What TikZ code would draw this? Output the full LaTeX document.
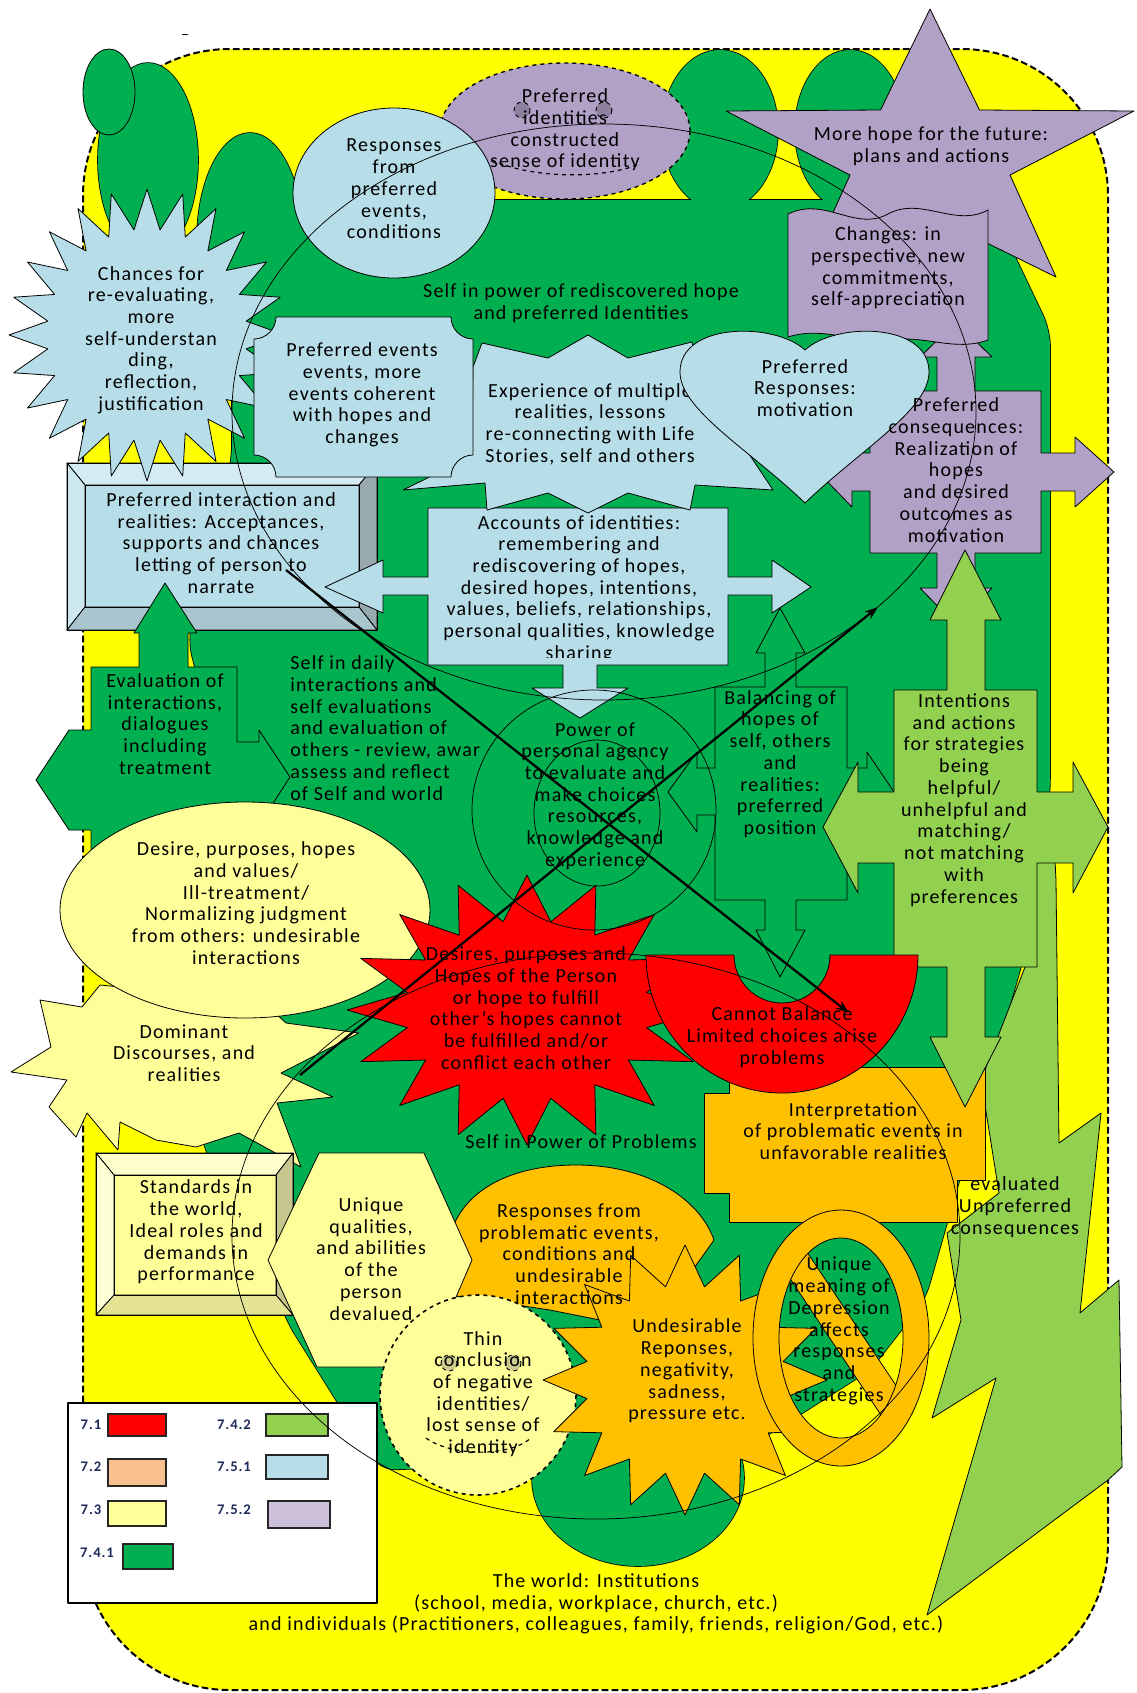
\documentclass[tikz,border=0pt]{standalone}
\usepackage{fontspec}
\setmainfont{Carlito}[LetterSpace=6]
\usetikzlibrary{arrows.meta}
\definecolor{ybg}{HTML}{FFFF00}
\definecolor{grn}{HTML}{00B050}
\definecolor{lgrn}{HTML}{92D050}
\definecolor{lblue}{HTML}{B7DEE8}
\definecolor{purp}{HTML}{B2A1C7}
\definecolor{pyel}{HTML}{FFFF99}
\definecolor{peach}{HTML}{FAC090}
\definecolor{rd}{HTML}{FF0000}
\definecolor{orng}{HTML}{FFC000}
\definecolor{lav}{HTML}{CCC0DA}
\definecolor{navy}{HTML}{1F2A5C}
\begin{document}
\begin{tikzpicture}[x=0.75pt,y=-0.75pt,
  shp/.style={draw=black,line width=0.6pt,line join=round},
  txt/.style={align=center,inner sep=0pt,font=\fontsize{15}{16.3}\selectfont,text=black},
  thinln/.style={draw=black,line width=0.55pt},
  leglbl/.style={inner sep=0pt,font=\fontsize{11}{12}\selectfont\bfseries,text=navy},
  swatch/.style={draw=black!85,line width=1pt}]
\useasboundingbox (0,0) rectangle (1136,1693);
\fill[white] (0,0) rectangle (1136,1693);
% world
\draw[fill=ybg,line width=1.5pt,dash pattern=on 5pt off 2.5pt,rounded corners=110pt] (83,49) rectangle (1108,1690);
% green union
\def\gbody{(232,200) -- (988,200) -- (1050,330) -- (1050,790) -- (1040,900) -- (1000,1040) -- (945,1230) -- (925,1300) -- (870,1370) -- (760,1440) -- (622,1440) -- (500,1465) -- (380,1470) -- (286,1320) -- (262,1250) -- (200,1140) -- (230,1020) -- (237,830) -- (188,640) -- (232,460) -- cycle}
\draw[line width=1.2pt,rounded corners=12pt] \gbody;
\draw[line width=1.2pt] (148,160) ellipse [x radius=50,y radius=97];
\draw[line width=1.2pt] (250,240) ellipse [x radius=53,y radius=107];
\draw[line width=1.2pt] (720,130) ellipse [x radius=58,y radius=80];
\draw[line width=1.2pt] (850,130) ellipse [x radius=55,y radius=80];
\draw[line width=1.2pt] (638,1478) ellipse [x radius=106,y radius=88];
\fill[grn,rounded corners=12pt] \gbody;
\fill[grn] (148,160) ellipse [x radius=50,y radius=97];
\fill[grn] (250,240) ellipse [x radius=53,y radius=107];
\fill[grn] (720,130) ellipse [x radius=58,y radius=80];
\fill[grn] (850,130) ellipse [x radius=55,y radius=80];
\fill[grn] (638,1478) ellipse [x radius=106,y radius=88];
\draw[shp,fill=grn] (109,92) ellipse [x radius=26,y radius=43];
% lightning bolt
\draw[shp,fill=lgrn] (1030,800) -- (1052,800) -- (1056,880) -- (1059,1143) -- (1101,1113) -- (1080,1313) -- (1119,1280) -- (1122,1467) -- (1108,1480) -- (927,1615) -- (996,1378) -- (932,1418) -- (961,1320) -- (947,1233) -- (999,1193) -- (981,1080) -- (1025,967) -- cycle;
% star more hope
\draw[shp,fill=purp] (930,9) -- (979.5,110) -- (1134,111) -- (1010,175) -- (1056,277) -- (930,215) -- (804,277) -- (850,175) -- (726,111) -- (880.5,110) -- cycle;
% purple 4-way
\draw[shp,fill=purp] (870,391) -- (937,391) -- (937,357) -- (920,357) -- (956,322) -- (992,357) -- (975,357) -- (975,391) -- (1041,391) -- (1041,453) -- (1075,453) -- (1075,437) -- (1114,472) -- (1075,507) -- (1075,491) -- (1041,491) -- (1041,553) -- (975,553) -- (975,588) -- (992,588) -- (956,625) -- (920,588) -- (937,588) -- (937,553) -- (870,553) -- (870,491) -- (852,491) -- (852,507) -- (818,472) -- (852,437) -- (852,453) -- (870,453) -- cycle;
% changes wave
\draw[shp,fill=purp] (788,214) .. controls (825,196) and (855,232) .. (888,214) .. controls (921,196) and (955,228) .. (988,210) -- (988,340) .. controls (955,352) and (925,335) .. (894,340) .. controls (860,346) and (825,325) .. (788,337) -- cycle;
% preferred identities ellipse (smiley)
\draw[fill=purp,line width=1pt,dashed] (565,131) ellipse [x radius=125,y radius=68];
\draw[fill=purp!80!black,line width=0.7pt,dashed] (522,110) circle [radius=8];
\draw[fill=purp!80!black,line width=0.7pt,dashed] (604,110) circle [radius=8];
\draw[line width=0.9pt,dashed] (492,160) .. controls (530,178) and (600,180) .. (640,164);
% responses from preferred events
\draw[shp,fill=lblue] (394,193) ellipse [x radius=101,y radius=85];
% bevel box preferred interaction
\fill[lblue] (67,463) rectangle (377,630);
\draw[shp,fill=lblue!60!white] (67,463) -- (377,463) -- (359,485) -- (85,485) -- cycle;
\draw[shp,fill=lblue!70!white] (67,463) -- (85,485) -- (85,607) -- (67,630) -- cycle;
\draw[shp,fill=lblue!45!gray] (377,463) -- (377,630) -- (359,607) -- (359,485) -- cycle;
\draw[shp,fill=lblue!75!gray] (67,630) -- (377,630) -- (359,607) -- (85,607) -- cycle;
\draw[shp] (85,485) rectangle (359,607);
\draw[shp] (67,463) rectangle (377,630);
% accounts 4-way
\draw[shp,fill=lblue] (428,508) -- (728,508) -- (728,577) -- (772,577) -- (772,560) -- (811,587) -- (772,613) -- (772,595) -- (728,595) -- (728,665) -- (597,665) -- (597,688) -- (628,688) -- (580,718) -- (532,688) -- (563,688) -- (563,665) -- (428,665) -- (428,595) -- (383,595) -- (383,613) -- (325,587) -- (383,560) -- (383,577) -- (428,577) -- cycle;
\begin{scope}
\clip (428,508) rectangle (728,657);
\node[txt] (tacc) at (579,589) {Accounts of identities:\\remembering and\\rediscovering of hopes,\\desired hopes, intentions,\\values, beliefs, relationships,\\personal qualities, knowledge\\sharing};
\end{scope}
% experience
\draw[shp,fill=lblue] (482,343) -- (548,358) -- (588,335) -- (628,358) -- (692,342) -- (700,380) -- (753,460) -- (773,490) -- (695,485) -- (690,510) -- (628,493) -- (588,513) -- (548,493) -- (487,510) -- (485,483) -- (403,490) -- (450,467) -- (472,447) -- (473,367) -- cycle;
\node[txt] (texp) at (590,424) {Experience of multiple\\realities, lessons\\re-connecting with Life\\Stories, self and others};
% heart
\draw[shp,fill=lblue] (805,350) .. controls (835,322) and (929,322) .. (929,372) .. controls (929,410) and (860,450) .. (805,503) .. controls (750,450) and (680,410) .. (680,372) .. controls (680,322) and (775,322) .. (805,350) -- cycle;
% chances star
\draw[shp,fill=lblue] plot[variable=\k,samples at={0,...,47}] ({147+cos(90+7.5*\k)*(138-38*mod(\k,2))},{335-sin(90+7.5*\k)*(146-40*mod(\k,2))}) -- cycle;
% plaque
\draw[shp,fill=lblue] (276,317) -- (451,317) .. controls (451,329) and (461,339) .. (473,339) -- (473,455) .. controls (461,455) and (451,465) .. (451,477) -- (276,477) .. controls (276,465) and (266,455) .. (254,455) -- (254,339) .. controls (266,339) and (276,329) .. (276,317) -- cycle;
% evaluation arrow
\draw[shp,fill=grn] (91,667) -- (139,667) -- (139,633) -- (134,633) -- (165,583) -- (197,633) -- (188,633) -- (188,667) -- (237,667) -- (237,742) -- (259,742) -- (259,730) -- (290,777) -- (259,825) -- (259,812) -- (237,812) -- (237,870) -- (91,870) -- (91,830) -- (69,830) -- (36,780) -- (69,730) -- (91,730) -- cycle;
% balancing 4-way
\draw[shp,fill=grn] (715,687) -- (765,687) -- (765,653) -- (756,653) -- (780,608) -- (805,653) -- (796,653) -- (796,687) -- (847,687) -- (847,768) -- (867,768) -- (867,752) -- (894,792) -- (867,832) -- (867,815) -- (847,815) -- (847,900) -- (796,900) -- (796,930) -- (805,930) -- (780,977) -- (756,930) -- (765,930) -- (765,900) -- (715,900) -- (715,815) -- (697,815) -- (697,832) -- (668,792) -- (697,752) -- (697,768) -- (715,768) -- cycle;
% interpretation
\draw[shp,fill=orng] (729,1067) -- (985,1067) -- (985,1180) -- (957,1180) -- (957,1222) -- (729,1222) -- (729,1193) -- (704,1193) -- (704,1093) -- (729,1093) -- cycle;
% intentions 4-way
\draw[shp,fill=lgrn] (894,690) -- (947,690) -- (947,620) -- (930,620) -- (965,550) -- (1001,620) -- (985,620) -- (985,690) -- (1037,690) -- (1037,792) -- (1073,792) -- (1073,762) -- (1108,827) -- (1073,893) -- (1073,863) -- (1037,863) -- (1037,967) -- (985,967) -- (985,1037) -- (1001,1037) -- (965,1107) -- (930,1037) -- (947,1037) -- (947,967) -- (894,967) -- (894,863) -- (858,863) -- (858,893) -- (823,827) -- (858,762) -- (858,792) -- (894,792) -- cycle;
% dominant
\draw[shp,fill=pyel] (11,1072) -- (51,1047) -- (40,1000) -- (82,1007) -- (100,985) -- (150,990) -- (200,985) -- (250,990) -- (286,1023) -- (359,1033) -- (281,1073) -- (333,1097) -- (277,1103) -- (301,1167) -- (239,1133) -- (196,1147) -- (156,1140) -- (120,1122) -- (118,1150) -- (87,1113) -- (76,1137) -- (49,1107) -- (67,1080) -- cycle;
% desire ellipse
\draw[shp,fill=pyel] (245,910) ellipse [x radius=185,y radius=108];
% red star
\draw[shp,fill=rd] plot[variable=\k,samples at={0,...,31}] ({527+cos(90+11.25*\k)*(180-58*mod(\k,2))},{1010-sin(90+11.25*\k)*(135-45*mod(\k,2))}) -- cycle;
% cannot balance block arc
\draw[shp,fill=rd] (646,955) arc [start angle=180,end angle=0,x radius=136,y radius=138] -- (830,955) arc [start angle=0,end angle=180,x radius=48,y radius=48] -- cycle;
% standards bevel
\fill[pyel] (96,1153) rectangle (293,1315);
\draw[shp,fill=pyel!50!white] (96,1153) -- (293,1153) -- (276,1175) -- (114,1175) -- cycle;
\draw[shp,fill=pyel!40!white] (96,1153) -- (114,1175) -- (114,1295) -- (96,1315) -- cycle;
\draw[shp,fill=pyel!55!gray] (293,1153) -- (293,1315) -- (276,1295) -- (276,1175) -- cycle;
\draw[shp,fill=pyel!78!gray] (96,1315) -- (293,1315) -- (276,1295) -- (114,1295) -- cycle;
\draw[shp] (114,1175) rectangle (276,1295);
\draw[shp] (96,1153) rectangle (293,1315);
% responses from problematic (orange)
\draw[shp,fill=orng] (449,1295) .. controls (430,1200) and (500,1165) .. (576,1165) .. controls (650,1165) and (700,1200) .. (714,1240) -- (650,1330) -- (550,1310) -- cycle;
% hexagon
\draw[shp,fill=pyel] (268,1260) -- (319,1153) -- (424,1153) -- (472,1260) -- (426,1367) -- (317,1367) -- cycle;
% thin conclusion circle
\draw[fill=pyel,line width=1.2pt,dashed] (478,1395) ellipse [x radius=98,y radius=100];
\draw[fill=pyel!60!gray,line width=0.7pt,dashed] (449,1363) circle [radius=8];
\draw[fill=pyel!60!gray,line width=0.7pt,dashed] (513,1363) circle [radius=8];
\draw[line width=0.9pt,dashed] (426,1438) .. controls (450,1456) and (510,1458) .. (532,1437);
% undesirable orange star
\draw[shp,fill=orng] plot[variable=\k,samples at={0,...,31}] ({685+cos(90+11.25*\k)*(142-42*mod(\k,2))},{1380-sin(90+11.25*\k)*(135-40*mod(\k,2))}) -- cycle;
% no symbol
\fill[orng,even odd rule] (841,1338) ellipse [x radius=88,y radius=128] (841,1338) ellipse [x radius=62,y radius=100];
\begin{scope}
\clip (841,1338) ellipse [x radius=62,y radius=100];
\fill[orng] (787,1222) -- (927,1432) -- (903,1448) -- (763,1238) -- cycle;
\draw[shp] (787,1222) -- (927,1432);
\draw[shp] (763,1238) -- (903,1448);
\end{scope}
\draw[shp] (841,1338) ellipse [x radius=88,y radius=128];
\draw[shp] (841,1338) ellipse [x radius=62,y radius=100];
% legend
\draw[shp,fill=white,line width=0.8pt] (68,1403) rectangle (377,1603);
\draw[swatch,fill=rd] (108,1414) rectangle (166,1436);
\draw[swatch,fill=peach] (108,1459) rectangle (166,1486);
\draw[swatch,fill=pyel] (108,1501) rectangle (166,1526);
\draw[swatch,fill=grn] (123,1544) rectangle (173,1569);
\draw[swatch,fill=lgrn] (266,1414) rectangle (328,1436);
\draw[swatch,fill=lblue] (266,1455) rectangle (328,1479);
\draw[swatch,fill=lav] (268,1501) rectangle (330,1528);
\node[leglbl] (l1) at (91,1425) {7.1};
\node[leglbl] (l2) at (91,1467) {7.2};
\node[leglbl] (l3) at (91,1510) {7.3};
\node[leglbl] (l4) at (97,1553) {7.4.1};
\node[leglbl] (l5) at (234,1425) {7.4.2};
\node[leglbl] (l6) at (234,1467) {7.5.1};
\node[leglbl] (l7) at (234,1510) {7.5.2};
% thin arcs
\draw[thinln] (604,412) ellipse [x radius=372,y radius=288];
\draw[thinln] (596,1236) ellipse [x radius=364,y radius=283];
\draw[thinln] (594,810) ellipse [x radius=122,y radius=120];
\draw[thinln] (597,813) ellipse [x radius=63,y radius=73];
% arrows
\coordinate (a1s) at (286,570);
\coordinate (a1e) at (849,1013);
\coordinate (a2s) at (300,1075);
\coordinate (a2e) at (878,607);
\draw[line width=1.7pt,-{Stealth[length=10pt,width=7pt]}] (a1s) -- (a1e);
\draw[line width=1.7pt,-{Stealth[length=10pt,width=7pt]}] (a2s) -- (a2e);
% texts
\node[font=\fontsize{12}{12}\selectfont,inner sep=0pt] (dash) at (185,37) {--};
\node[txt] (tpid) at (565,130) {Preferred\\identities\\constructed\\sense of identity};
\node[txt] (tresp) at (394,189) {Responses\\from\\preferred\\events,\\conditions};
\node[txt] (thope) at (931,146) {More hope for the future:\\plans and actions};
\node[txt] (tchg) at (888,268) {Changes: in\\perspective, new\\commitments,\\self-appreciation};
\node[txt] (tself) at (581,303) {Self in power of rediscovered hope\\and preferred Identities};
\node[txt] (tchance) at (151,340) {Chances for\\re-evaluating,\\more\\self-understan\\ding,\\reflection,\\justification};
\node[txt] (tpev) at (362,395) {Preferred events\\events, more\\events coherent\\with hopes and\\changes};
\node[txt] (tprr) at (805,388) {Preferred\\Responses:\\motivation};
\node[txt] (tcons) at (956,470) {Preferred\\consequences:\\Realization of\\hopes\\and desired\\outcomes as\\motivation};
\node[txt] (tpint) at (221,543) {Preferred interaction and\\realities: Acceptances,\\supports and chances\\letting of person to\\narrate};
\node[txt] (teval) at (165,724) {Evaluation of\\interactions,\\dialogues\\including\\treatment};
\node[txt,align=left,anchor=west] (tdaily) at (290,728) {Self in daily\\interactions and\\self evaluations\\and evaluation of\\others - review, awar\\assess and reflect\\of Self and world};
\node[txt] (tpow) at (595,796) {Power of\\personal agency\\to evaluate and\\make choices\\resources,\\knowledge and\\experience};
\node[txt] (tbal) at (780,764) {Balancing of\\hopes of\\self, others\\and\\realities:\\preferred\\position};
\node[txt] (tint) at (964,800) {Intentions\\and actions\\for strategies\\being\\helpful/\\unhelpful and\\matching/\\not matching\\with\\preferences};
\node[txt] (tdes) at (246,903) {Desire, purposes, hopes\\and values/\\Ill-treatment/\\Normalizing judgment\\from others: undesirable\\interactions};
\node[txt] (tdom) at (184,1053) {Dominant\\Discourses, and\\realities};
\node[txt] (tred) at (526,1008) {Desires, purposes and\\Hopes of the Person\\or hope to fulfill\\other's hopes cannot\\be fulfilled and/or\\conflict each other};
\node[txt] (tcb) at (782,1037) {Cannot Balance\\Limited choices arise\\problems};
\node[txt] (tinterp) at (853,1131) {Interpretation\\of problematic events in\\unfavorable realities};
\node[txt] (tsp) at (581,1142) {Self in Power of Problems};
\node[txt] (tevu) at (1015,1207) {evaluated\\Unpreferred\\consequences};
\node[txt] (tstd) at (196,1232) {Standards in\\the world,\\Ideal roles and\\demands in\\performance};
\node[txt] (tuq) at (371,1259) {Unique\\qualities,\\and abilities\\of the\\person\\devalued};
\node[txt] (trfp) at (569,1254) {Responses from\\problematic events,\\conditions and\\undesirable\\interactions};
\node[txt] (tthin) at (483,1394) {Thin\\conclusion\\of negative\\identities/\\lost sense of\\identity};
\node[txt] (tund) at (687,1371) {Undesirable\\Reponses,\\negativity,\\sadness,\\pressure etc.};
\node[txt] (tdep) at (839,1331) {Unique\\meaning of\\Depression\\affects\\responses\\and\\strategies};
\node[txt] (tworld) at (596,1604) {The world: Institutions\\(school, media, workplace, church, etc.)\\and individuals (Practitioners, colleagues, family, friends, religion/God, etc.)};
\end{tikzpicture}
\end{document}
